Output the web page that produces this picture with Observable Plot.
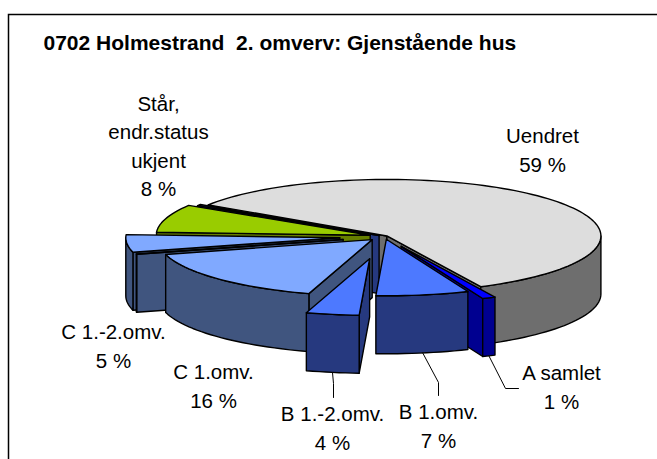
<!DOCTYPE html>
<html><head><meta charset="utf-8">
<script src="https://cdn.jsdelivr.net/npm/d3@7"></script>
<script src="https://cdn.jsdelivr.net/npm/@observablehq/plot@0.6"></script>
<style>html,body{margin:0;padding:0;background:#fff;overflow:hidden}svg{display:block;overflow:hidden}</style>
</head><body><div id="chart"></div>
<script>
const categories = ["A samlet","B 1.omv.","B 1.-2.omv.","C 1.omv.","(sliver C)","C 1.-2.omv.","Står,\nendr.status\nukjent","(sliver S)","Uendret"];
const shares     = [1.0, 7.0, 4.0, 16.0, 0.1, 5.0, 8.0, 0.4, 58.5];
const printed    = ["1 %","7 %","4 %","16 %","","5 %","8 %","","59 %"];
const explode    = [0.19,0.05,0.40,0.08,0.2,0.21,0.07,0.03,0.015];
const topColors  = ["#0000ff","#4d79ff","#4d79ff","#80a9ff","#26397f","#80a9ff","#99cc00","#26397f","#dddddd"];
const wallColors = ["#000090","#26397f","#26397f","#40557f","#40557f","#40557f","#667f00","#26397f","#6e6e6e"];
const drawOrder  = [8,7,6,5,4,3,0,1,2];

const cx=384, cy=236, rx=214, ry=56.5, depth=58, startT=64;
const labelX=[561,438,332,213,0,113,158,0,542], labelY=[385,424,426,384,0,344,144,0,148];
const leaderAnchor=[[505,388,518,388],[438,382,438,395],[333,383,333,397]];

const rad=d=>d*Math.PI/180, slices=[]; let t=startT;
shares.forEach((v,i)=>{const a=t,b=t+v*3.6; t=b; const m=(a+b)/2;
  slices.push({i,a,b,ox:cx+explode[i]*rx*Math.cos(rad(m)),oy:cy+explode[i]*ry*Math.sin(rad(m))});});
const P=(s,u,dz=0)=>({x:s.ox+rx*Math.cos(rad(u)),y:s.oy+ry*Math.sin(rad(u))+dz});
const arc=(s,a,b,dz=0)=>{const n=Math.max(2,Math.ceil(Math.abs(b-a)/2)+1);return d3.range(n).map(k=>P(s,a+(b-a)*k/(n-1),dz));};
const poly=(pts,fill)=>Plot.line(pts,{x:"x",y:"y",curve:"linear-closed",fill,stroke:"#000",strokeWidth:1.4,strokeLinejoin:"round"});
const marks=[Plot.rect([0],{x1:()=>8.5,x2:()=>700,y1:()=>14.5,y2:()=>490,fill:"#fff",stroke:"#000",strokeWidth:1.5})];
for(const idx of drawOrder){const s=slices[idx],w=wallColors[idx],c=topColors[idx];
  const O={x:s.ox,y:s.oy},O2={x:s.ox,y:s.oy+depth};
  const n=r=>Math.cos(rad(r));
  if(n(s.a)<0){const A=P(s,s.a);marks.push(poly([O,A,{x:A.x,y:A.y+depth},O2],w));}
  if(n(s.b)>0){const B=P(s,s.b);marks.push(poly([O,B,{x:B.x,y:B.y+depth},O2],w));}
  for(const k of [0,360]){const a=Math.max(s.a,k),b=Math.min(s.b,k+180);
    if(b>a){marks.push(poly([...arc(s,a,b),...arc(s,b,a,depth)],w));}}
  marks.push(poly([O,...arc(s,s.a,s.b)],c));
}
const leaders=[0,1,2].map(i=>{const s=slices[i],m=(s.a+s.b)/2,q=P(s,m,depth),e=leaderAnchor[i];
  return [{x:q.x,y:q.y},{x:e[0],y:e[1]},{x:e[2],y:e[3]}];});
leaders.forEach(l=>marks.push(Plot.line(l,{x:"x",y:"y",stroke:"#000",strokeWidth:1})));
const labels=categories.map((c,i)=>({t:c+"\n"+printed[i],x:labelX[i],y:labelY[i],p:printed[i]})).filter(d=>d.p);
marks.push(Plot.text(labels,{x:"x",y:"y",text:"t",textAnchor:"middle",lineAnchor:"middle",lineHeight:1.38,fontSize:20.5,fontFamily:"Liberation Sans",fill:"#000"}));
marks.push(Plot.text(["0702 Holmestrand  2. omverv: Gjenstående hus"],{x:()=>43,y:()=>43,text:d=>d,textAnchor:"start",fontSize:21,fontWeight:"bold",fontFamily:"Liberation Sans",fill:"#000"}));
const svg=Plot.plot({width:657,height:459,margin:0,axis:null,
  x:{type:"linear",domain:[0,657],range:[0,657]},y:{type:"linear",domain:[0,459],range:[0,459]},
  style:{background:"#fff",whiteSpace:"pre",overflow:"hidden"},marks});
document.getElementById("chart").append(svg);
</script></body></html>
